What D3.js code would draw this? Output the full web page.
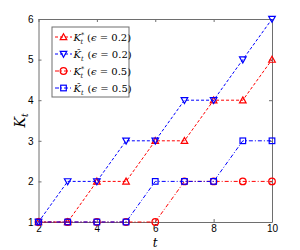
<!DOCTYPE html>
<html>
<head>
<meta charset="utf-8">
<script src="https://cdn.jsdelivr.net/npm/d3@7"></script>
<style>
  body { margin: 0; background: #fff; }
  svg { display: block; }
  .tick text { font-family: "Liberation Sans", Arial, sans-serif; font-size: 10px; fill: #000; }
</style>
</head>
<body>
<div id="chart"></div>
<script>
// data
var tValues = [2, 3, 4, 5, 6, 7, 8, 9, 10];
var kStar02 = [1, 1, 2, 2, 3, 3, 4, 4, 5];
var kHat02 = [1, 2, 2, 3, 3, 4, 4, 5, 6];
var kStar05 = [1, 1, 1, 1, 1, 2, 2, 2, 2];
var kHat05 = [1, 1, 1, 1, 2, 2, 2, 3, 3];
var xTicks = [2, 4, 6, 8, 10];
var yTicks = [1, 2, 3, 4, 5, 6];

var series = [
  { vals: kStar02, color: "#ff0000", dash: "3,2", marker: "up", sup: "*", eps: "0.2" },
  { vals: kHat02, color: "#0000ff", dash: "3,2", marker: "down", sup: null, eps: "0.2" },
  { vals: kStar05, color: "#ff0000", dash: "4,2,1,2", marker: "circle", sup: "*", eps: "0.5" },
  { vals: kHat05, color: "#0000ff", dash: "4,2,1,2", marker: "square", sup: null, eps: "0.5" }
];

var svgWidth = 300;
var svgHeight = 250;
var margin = { top: 19, right: 28, bottom: 28, left: 38.5 };
var chartWidth = svgWidth - margin.left - margin.right;
var chartHeight = svgHeight - margin.top - margin.bottom;

var svg = d3.select("#chart").append("svg")
  .attr("width", svgWidth)
  .attr("height", svgHeight);

var chartGroup = svg.append("g")
  .attr("transform", `translate(${margin.left}, ${margin.top})`);

var xScale = d3.scaleLinear().domain([2, 10]).range([0, chartWidth]);
var yScale = d3.scaleLinear().domain([1, 6]).range([chartHeight, 0]);

// axes, matlab style: ticks inward, box on all sides
var axisColor = "#6e6e6e";
function styleAxis(g) {
  g.select(".domain").attr("stroke", axisColor);
  g.selectAll(".tick line").attr("stroke", axisColor);
}
chartGroup.append("g")
  .attr("transform", `translate(0, ${chartHeight})`)
  .call(d3.axisBottom(xScale).tickValues(xTicks).tickSizeInner(-3).tickSizeOuter(0).tickPadding(3).tickFormat(d3.format("d")))
  .call(styleAxis);
chartGroup.append("g")
  .call(d3.axisLeft(yScale).tickValues(yTicks).tickSizeInner(-3).tickSizeOuter(0).tickPadding(5).tickFormat(d3.format("d")))
  .call(styleAxis);
chartGroup.append("g")
  .call(d3.axisTop(xScale).tickValues(xTicks).tickSizeInner(-3).tickSizeOuter(0).tickFormat(""))
  .call(styleAxis);
chartGroup.append("g")
  .attr("transform", `translate(${chartWidth}, 0)`)
  .call(d3.axisRight(yScale).tickValues(yTicks).tickSizeInner(-3).tickSizeOuter(0).tickFormat(""))
  .call(styleAxis);

// axis labels
chartGroup.append("text")
  .attr("x", chartWidth / 2)
  .attr("y", chartHeight + 25)
  .attr("text-anchor", "middle")
  .style("font-family", "'DejaVu Serif', serif")
  .style("font-style", "italic")
  .style("font-size", "12px")
  .text("t");

var yLab = chartGroup.append("text")
  .attr("transform", `translate(-14, ${chartHeight / 2}) rotate(-90)`)
  .attr("text-anchor", "middle")
  .style("font-family", "'DejaVu Serif', serif")
  .style("font-size", "14px");
yLab.append("tspan").style("font-style", "italic").text("K");
yLab.append("tspan").attr("dy", 3).style("font-size", "9px").style("font-style", "italic").text("t");

// marker drawing
function drawMarker(g, type, color) {
  var s = 3.3;
  if (type === "up") {
    g.append("path").attr("d", `M0,${-s}L${s},${s * 0.8}L${-s},${s * 0.8}Z`);
  } else if (type === "down") {
    g.append("path").attr("d", `M0,${s}L${s},${-s * 0.8}L${-s},${-s * 0.8}Z`);
  } else if (type === "circle") {
    g.append("circle").attr("r", s);
  } else {
    g.append("rect").attr("x", -2.8).attr("y", -2.8).attr("width", 5.6).attr("height", 5.6);
  }
  g.selectAll("*").attr("fill", "none").attr("stroke", color).attr("stroke-width", 1.2);
}

var line = d3.line()
  .x((d, i) => xScale(tValues[i]))
  .y(d => yScale(d));

series.forEach(function (s) {
  chartGroup.append("path")
    .datum(s.vals)
    .attr("d", line)
    .attr("fill", "none")
    .attr("stroke", s.color)
    .attr("stroke-width", 1)
    .attr("stroke-dasharray", s.dash);
  s.vals.forEach(function (v, i) {
    var m = chartGroup.append("g")
      .attr("transform", `translate(${xScale(tValues[i])}, ${yScale(v)})`);
    drawMarker(m, s.marker, s.color);
  });
});

// legend
var legend = chartGroup.append("g").attr("transform", "translate(13.5, 8)");
legend.append("rect")
  .attr("width", 77)
  .attr("height", 70)
  .attr("fill", "#fff")
  .attr("stroke", axisColor)
  .attr("stroke-width", 1);

series.forEach(function (s, i) {
  var row = legend.append("g").attr("transform", `translate(0, ${10 + i * 17})`);
  row.append("line")
    .attr("x1", 3).attr("x2", 20).attr("y1", 0).attr("y2", 0)
    .attr("stroke", s.color).attr("stroke-width", 1)
    .attr("stroke-dasharray", s.dash);
  var m = row.append("g").attr("transform", "translate(11.5, 0)");
  drawMarker(m, s.marker, s.color);
  var txt = row.append("text")
    .attr("x", 21.5)
    .attr("y", 3.5)
    .style("font-family", "'DejaVu Serif', serif")
    .style("font-size", "10px");
  txt.append("tspan").style("font-style", "italic").text(s.sup ? "K" : "K\u0302");
  if (s.sup) {
    txt.append("tspan").attr("dy", -3.5).style("font-size", "6.5px").text("*");
    txt.append("tspan").attr("dx", -3.8).attr("dy", 6.5).style("font-size", "6.5px").style("font-style", "italic").text("t");
  } else {
    txt.append("tspan").attr("dy", 3).style("font-size", "6.5px").style("font-style", "italic").text("t");
  }
  txt.append("tspan").attr("dy", -3).attr("dx", 4).text("(");
  txt.append("tspan").style("font-style", "italic").text("\u03f5");
  txt.append("tspan").text(" = " + s.eps + ")");
});
</script>
</body>
</html>
